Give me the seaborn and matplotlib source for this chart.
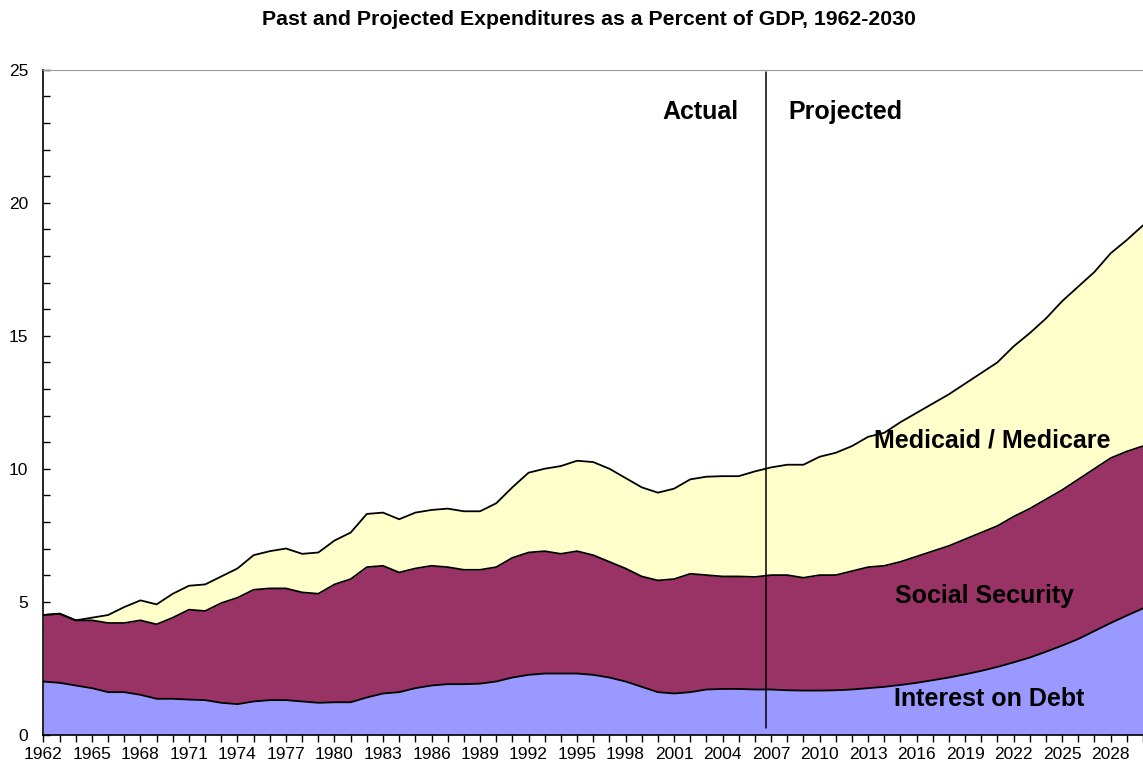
import numpy as np
import pandas as pd
import seaborn as sns
import matplotlib.pyplot as plt
from matplotlib.ticker import MultipleLocator

years = list(range(1962, 2031))

interest = [2.0, 1.95, 1.85, 1.75, 1.6, 1.6, 1.5, 1.35, 1.35, 1.32,
            1.3, 1.2, 1.15, 1.25, 1.3, 1.3, 1.25, 1.2, 1.22, 1.22,
            1.4, 1.55, 1.6, 1.75, 1.85, 1.9, 1.9, 1.92, 2.0, 2.15,
            2.25, 2.3, 2.3, 2.3, 2.25, 2.15, 2.0, 1.8, 1.6, 1.55,
            1.6, 1.7, 1.72, 1.72, 1.7, 1.7, 1.67, 1.66, 1.66, 1.67,
            1.7, 1.75, 1.8, 1.87, 1.95, 2.05, 2.15, 2.27, 2.4, 2.55,
            2.72, 2.9, 3.12, 3.35, 3.6, 3.9, 4.2, 4.48, 4.75]

# cumulative top of the social security band
ss_top = [4.5, 4.55, 4.3, 4.3, 4.2, 4.2, 4.3, 4.15, 4.4, 4.7,
          4.65, 4.95, 5.15, 5.45, 5.5, 5.5, 5.35, 5.3, 5.65, 5.85,
          6.3, 6.35, 6.1, 6.25, 6.35, 6.3, 6.2, 6.2, 6.3, 6.65,
          6.85, 6.9, 6.8, 6.9, 6.75, 6.5, 6.25, 5.95, 5.8, 5.85,
          6.05, 6.0, 5.95, 5.95, 5.93, 6.0, 6.0, 5.9, 6.0, 6.0,
          6.15, 6.3, 6.35, 6.5, 6.7, 6.9, 7.1, 7.35, 7.6, 7.85,
          8.2, 8.5, 8.85, 9.2, 9.6, 10.0, 10.4, 10.65, 10.85]

# cumulative top of the medicaid / medicare band (total)
total = [4.5, 4.55, 4.3, 4.4, 4.5, 4.8, 5.05, 4.9, 5.3, 5.6,
         5.65, 5.95, 6.25, 6.75, 6.9, 7.0, 6.8, 6.85, 7.3, 7.6,
         8.3, 8.35, 8.1, 8.35, 8.45, 8.5, 8.4, 8.4, 8.7, 9.3,
         9.85, 10.0, 10.1, 10.3, 10.25, 10.0, 9.65, 9.3, 9.1, 9.25,
         9.6, 9.7, 9.72, 9.72, 9.9, 10.05, 10.15, 10.15, 10.45, 10.6,
         10.85, 11.2, 11.35, 11.75, 12.1, 12.45, 12.8, 13.2, 13.6, 14.0,
         14.6, 15.1, 15.65, 16.3, 16.85, 17.4, 18.1, 18.6, 19.15]

df = pd.DataFrame({"year": years, "interest": interest,
                   "ss_top": ss_top, "total": total})

sns.set_style("white")
plt.rcParams["font.family"] = ["Liberation Sans", "DejaVu Sans"]
plt.rcParams["text.color"] = "black"
plt.rcParams["xtick.color"] = "black"
plt.rcParams["ytick.color"] = "black"

fig = plt.figure(figsize=(11.43, 7.75), dpi=100)
ax = fig.add_axes([0.038, 0.052, 0.962, 0.858])

ax.fill_between(df["year"], 0, df["interest"], color="#9999FF", lw=0)
ax.fill_between(df["year"], df["interest"], df["ss_top"], color="#993366", lw=0)
ax.fill_between(df["year"], df["ss_top"], df["total"], color="#FFFFCC", lw=0)

for col in ["interest", "ss_top", "total"]:
    sns.lineplot(data=df, x="year", y=col, ax=ax, color="black", lw=1.3)

ax.plot([2006.7, 2006.7], [0.25, 24.9], color="black", lw=1.1)

ax.set_xlim(1962, 2030)
ax.set_ylim(0, 25)
ax.set_xlabel("")
ax.set_ylabel("")

ax.set_xticks(years, minor=True)
ax.set_xticks(years[::3])
ax.set_xticklabels([str(y) for y in years[::3]], fontsize=12.5)
ax.yaxis.set_major_locator(MultipleLocator(5))
ax.yaxis.set_minor_locator(MultipleLocator(1))
ax.tick_params(axis="y", which="both", direction="in", length=5, width=1,
               labelsize=12.5, left=True, pad=11)
ax.tick_params(axis="x", which="both", direction="out", length=5, width=1,
               bottom=True, pad=4)

for s in ["left", "bottom"]:
    ax.spines[s].set_color("black")
    ax.spines[s].set_linewidth(1.2)
ax.spines["top"].set_color("#999999")
ax.spines["right"].set_visible(False)

lab = dict(fontsize=18, fontweight="bold", ha="center", va="center")
ax.text(2002.6, 23.4, "Actual", **lab)
ax.text(2011.6, 23.4, "Projected", **lab)
ax.text(2020.7, 11.05, "Medicaid / Medicare", **lab)
ax.text(2020.2, 5.2, "Social Security", **lab)
ax.text(2020.5, 1.35, "Interest on Debt", **lab)

fig.text(0.515, 0.975, "Past and Projected Expenditures as a Percent of GDP, 1962-2030",
         ha="center", va="center", fontsize=15.3, fontweight="bold")

fig.savefig("out.png", dpi=100)
